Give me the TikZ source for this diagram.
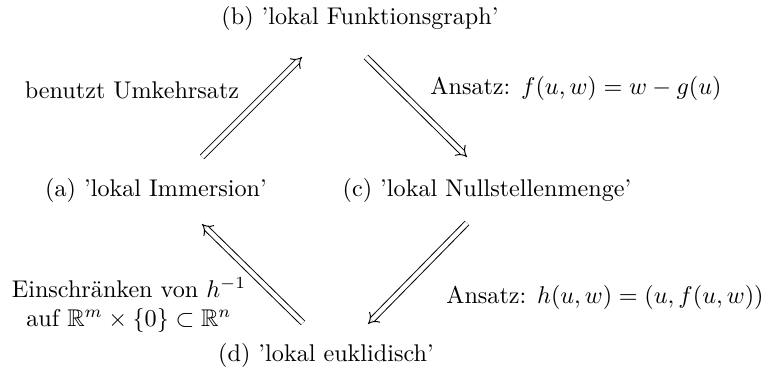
\documentclass[tikz,border=0pt]{standalone}
\usepackage{amsmath,amssymb}
\usetikzlibrary{arrows.meta}
\begin{document}
\begin{tikzpicture}[x=0.414pt,y=-0.414pt,
  lbl/.style={inner sep=0pt, align=center},
  dbl/.style={double, double distance=1.8pt, line width=0.4pt, -{Implies}, shorten >=0pt}]
\useasboundingbox (0,0) rectangle (767,376);
\node[lbl] (b) at (360,18) {(b) 'lokal Funktionsgraph'};
\node[lbl] (a) at (156,190) {(a) 'lokal Immersion'};
\node[lbl] (c) at (487,190) {(c) 'lokal Nullstellenmenge'};
\node[lbl] (d) at (326,355) {(d) 'lokal euklidisch'};
\coordinate (a1) at (202,157);
\coordinate (b1) at (302,57);
\coordinate (b2) at (366,57);
\coordinate (c1) at (467,157);
\coordinate (c2) at (467,223);
\coordinate (d1) at (368,324);
\coordinate (d2) at (303,323);
\coordinate (a2) at (202,224);
\draw[dbl] (a1) -- (b1);
\draw[dbl] (b2) -- (c1);
\draw[dbl] (c2) -- (d1);
\draw[dbl] (d2) -- (a2);
\node[lbl] (l1) at (132,90) {benutzt Umkehrsatz};
\node[lbl] (l2) at (576,88) {Ansatz: $f(u,w)=w-g(u)$};
\node[lbl] (l3) at (129,305) {Einschränken von $h^{-1}$\\auf $\mathbb{R}^m\times\{0\}\subset\mathbb{R}^n$};
\node[lbl] (l4) at (605,297) {Ansatz: $h(u,w)=(u,f(u,w))$};
\end{tikzpicture}
\end{document}
